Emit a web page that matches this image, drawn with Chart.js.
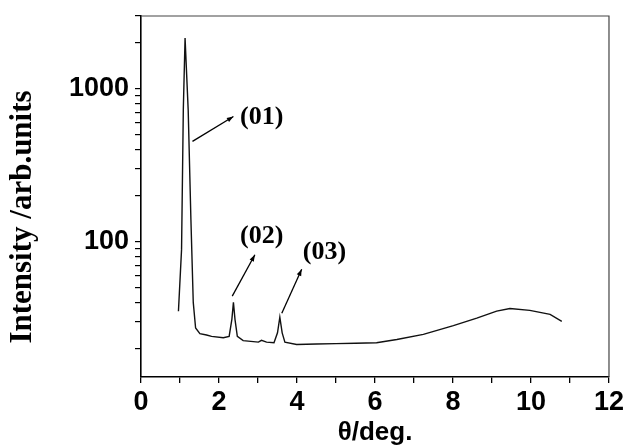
<!DOCTYPE html>
<html>
<head>
<meta charset="utf-8">
<script src="https://cdn.jsdelivr.net/npm/chart.js@4.4.1/dist/chart.umd.min.js"></script>
<style>
  html, body { margin: 0; padding: 0; background: #fff; }
</style>
</head>
<body>
<canvas id="xrd" width="627" height="448"></canvas>
<script>
// diffraction pattern
const thetaDeg = [0.96, 1.04, 1.085, 1.13, 1.21, 1.28, 1.34, 1.40, 1.51, 1.68, 1.81, 2.11, 2.26, 2.33, 2.37, 2.41,
    2.47, 2.62, 3.01, 3.09, 3.22, 3.41, 3.50, 3.56, 3.62, 3.69, 3.99, 4.5, 5.0, 5.5, 6.04, 6.56, 7.24, 8.01, 8.61,
    9.12, 9.46, 9.97, 10.49, 10.79];
const intensity = [35, 89, 729, 2150, 729, 139, 40, 27.2, 25, 24.5, 24, 23.5, 24, 31, 40, 31,
    24, 22.5, 22, 22.6, 22, 21.8, 25.3, 32, 25.3, 22, 21.2, 21.4, 21.5, 21.6, 21.8, 22.9, 24.7, 28.2, 31.6,
    35.1, 36.5, 35.5, 33.4, 30.1];

// axis ticks
const xTicks = [0, 1, 2, 3, 4, 5, 6, 7, 8, 9, 10, 11, 12];
const xLabelled = [0, 2, 4, 6, 8, 10, 12];
const yTicks = [20, 30, 40, 50, 60, 70, 80, 90, 100, 200, 300, 400, 500, 600, 700, 800, 900, 1000, 2000, 3000];
const yLabelled = [100, 1000];

// peak labels (Miller indices) and arrows, in data coordinates
const peakNames = ["(01)", "(02)", "(03)"];
const peakLabelX = [2.54, 2.54, 4.15];
const peakLabelY = [656, 109, 85];
const arrowFromX = [1.32, 2.34, 3.61];
const arrowFromY = [453, 44, 34];
const arrowToX = [2.37, 2.92, 4.12];
const arrowToY = [659, 82, 66];

const points = thetaDeg.map(function (t, i) {
    return {x: t, y: intensity[i]};
});

const frame = {
    id: "frame",
    afterDraw: function (chart) {
        let ctx = chart.ctx;
        let a = chart.chartArea;
        ctx.save();
        ctx.strokeStyle = "#444";
        ctx.lineWidth = 1.2;
        ctx.beginPath();
        ctx.moveTo(a.left, a.top);
        ctx.lineTo(a.right, a.top);
        ctx.lineTo(a.right, a.bottom);
        ctx.stroke();

        // y axis title
        ctx.fillStyle = "#000";
        ctx.font = "bold 31px 'Liberation Serif'";
        ctx.textAlign = "center";
        ctx.textBaseline = "middle";
        ctx.translate(23, 217);
        ctx.rotate(-Math.PI / 2);
        ctx.fillText("Intensity /arb.units", 0, 0);
        ctx.restore();
    }
};

const peaks = {
    id: "peaks",
    afterDatasetsDraw: function (chart) {
        let ctx = chart.ctx;
        let xs = chart.scales.x;
        let ys = chart.scales.y;
        ctx.save();
        ctx.strokeStyle = "#000";
        ctx.fillStyle = "#000";
        ctx.lineWidth = 1.3;
        peakNames.forEach(function (name, i) {
            let x0 = xs.getPixelForValue(arrowFromX[i]);
            let y0 = ys.getPixelForValue(arrowFromY[i]);
            let x1 = xs.getPixelForValue(arrowToX[i]);
            let y1 = ys.getPixelForValue(arrowToY[i]);
            ctx.beginPath();
            ctx.moveTo(x0, y0);
            ctx.lineTo(x1, y1);
            ctx.stroke();
            let ang = Math.atan2(y1 - y0, x1 - x0);
            ctx.beginPath();
            ctx.moveTo(x1, y1);
            ctx.lineTo(x1 - 7 * Math.cos(ang - 0.35), y1 - 7 * Math.sin(ang - 0.35));
            ctx.lineTo(x1 - 7 * Math.cos(ang + 0.35), y1 - 7 * Math.sin(ang + 0.35));
            ctx.closePath();
            ctx.fill();

            ctx.font = "bold 26px 'Liberation Serif'";
            ctx.textAlign = "left";
            ctx.textBaseline = "middle";
            ctx.fillText(name, xs.getPixelForValue(peakLabelX[i]), ys.getPixelForValue(peakLabelY[i]));
        });
        ctx.restore();
    }
};

new Chart(document.getElementById("xrd"), {
    type: "line",
    data: {
        datasets: [{
            data: points,
            borderColor: "#111",
            borderWidth: 1.4,
            pointRadius: 0,
            tension: 0,
            fill: false
        }]
    },
    options: {
        responsive: false,
        animation: false,
        events: [],
        layout: {padding: {top: 16, right: 16, left: 0, bottom: 0}},
        plugins: {legend: {display: false}, tooltip: {enabled: false}},
        scales: {
            x: {
                type: "linear",
                min: 0,
                max: 12,
                afterFit: function (scale) { scale.height = 71; },
                afterBuildTicks: function (scale) {
                    scale.ticks = xTicks.map(function (v) { return {value: v}; });
                },
                ticks: {
                    autoSkip: false,
                    maxRotation: 0,
                    padding: 3,
                    color: "#000",
                    font: {family: "'Liberation Sans'", size: 27, weight: "bold"},
                    callback: function (v) { return xLabelled.includes(v) ? String(v) : ""; }
                },
                grid: {drawOnChartArea: false, tickLength: 6, color: "#000", lineWidth: 1.3},
                border: {color: "#000", width: 1.6},
                title: {
                    display: true,
                    text: "θ/deg.",
                    color: "#000",
                    padding: {top: 0, bottom: 0},
                    font: {family: "'Liberation Sans'", size: 26, weight: "bold"}
                }
            },
            y: {
                type: "logarithmic",
                min: 13,
                max: 3000,
                afterFit: function (scale) {
                    scale.width = 141;
                    scale.paddingTop = 0;
                    scale.paddingBottom = 0;
                },
                afterBuildTicks: function (scale) {
                    scale.ticks = yTicks.map(function (v) { return {value: v}; });
                },
                ticks: {
                    autoSkip: false,
                    padding: 6,
                    color: "#000",
                    font: {family: "'Liberation Sans'", size: 27, weight: "bold"},
                    callback: function (v) { return yLabelled.includes(v) ? String(v) : ""; }
                },
                grid: {drawOnChartArea: false, tickLength: 6, color: "#000", lineWidth: 1.2},
                border: {color: "#000", width: 1.6}
            }
        }
    },
    plugins: [frame, peaks]
});
</script>
</body>
</html>
